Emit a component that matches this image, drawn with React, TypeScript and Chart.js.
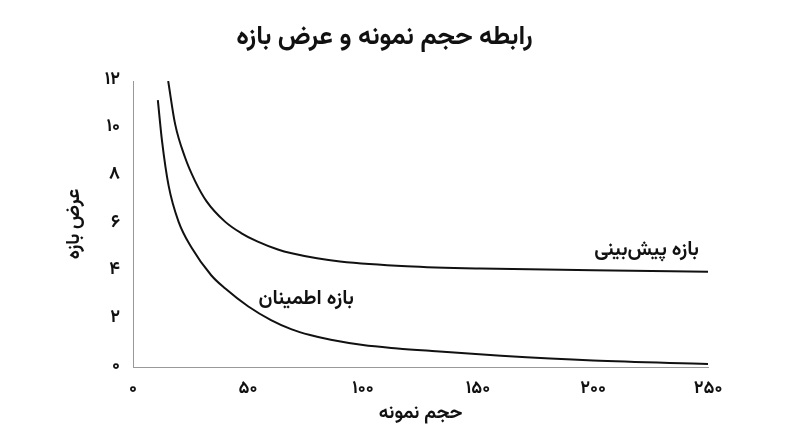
import React, { useEffect, useRef } from 'react';
import Chart from 'chart.js/auto';

// sample size (x) and interval width (y)
const confN = [10.8, 12.6, 15.5, 19.8, 25.5, 34, 40, 50, 60, 69, 77, 86, 100, 115, 130, 160, 200, 250];
const confWidth = [11.2, 9.5, 7.6, 6.1, 5.0, 3.85, 3.3, 2.55, 1.97, 1.58, 1.34, 1.14, 0.92, 0.78, 0.67, 0.47, 0.27, 0.13];

const predN = [15.3, 18.3, 22.6, 27, 32, 40, 47, 54, 63, 69, 80, 90, 119, 151, 200, 250];
const predWidth = [12, 10.2, 8.8, 7.8, 6.95, 6.1, 5.62, 5.27, 4.93, 4.77, 4.56, 4.43, 4.23, 4.13, 4.06, 4.0];

const xTickValues = [0, 50, 100, 150, 200, 250];
const xTickLabels = ['۰', '۵۰', '۱۰۰', '۱۵۰', '۲۰۰', '۲۵۰'];
const yTickValues = [0, 2, 4, 6, 8, 10, 12];
const yTickLabels = ['۰', '۲', '۴', '۶', '۸', '۱۰', '۱۲'];

const chartTitle = 'رابطه حجم نمونه و عرض بازه';
const xTitle = 'حجم نمونه';
const yTitle = 'عرض بازه';

// curve labels: text and the data point their right edge sits on
const curveLabels = [
  { text: 'بازه پیش‌بینی', x: 246, y: 4.83 },
  { text: 'بازه اطمینان', x: 96, y: 2.79 },
];

const FONT = "Vazirmatn, 'DejaVu Sans', sans-serif";

const curveLabelPlugin = {
  id: 'curveLabels',
  afterDatasetsDraw(chart: Chart) {
    const { ctx, scales } = chart;
    ctx.save();
    ctx.fillStyle = '#111';
    ctx.font = `bold 20px ${FONT}`;
    ctx.textAlign = 'right';
    ctx.textBaseline = 'middle';
    curveLabels.forEach(l => {
      ctx.fillText(l.text, scales.x.getPixelForValue(l.x), scales.y.getPixelForValue(l.y));
    });
    ctx.restore();
  },
};

export default function App() {
  const canvasRef = useRef<HTMLCanvasElement | null>(null);

  useEffect(() => {
    document.body.style.margin = '0';
    if (!canvasRef.current) return;

    const chart = new Chart(canvasRef.current, {
      type: 'line',
      data: {
        datasets: [
          {
            label: 'conf',
            data: confN.map((n, i) => ({ x: n, y: confWidth[i] })),
            borderColor: '#111',
            borderWidth: 2,
            pointRadius: 0,
            cubicInterpolationMode: 'monotone',
            fill: false,
          },
          {
            label: 'pred',
            data: predN.map((n, i) => ({ x: n, y: predWidth[i] })),
            borderColor: '#111',
            borderWidth: 2,
            pointRadius: 0,
            cubicInterpolationMode: 'monotone',
            fill: false,
          },
        ],
      },
      options: {
        animation: false,
        responsive: false,
        maintainAspectRatio: false,
        layout: { padding: { left: 61, right: 92, top: 0, bottom: 17 } },
        plugins: {
          legend: { display: false },
          tooltip: { enabled: false },
          title: {
            display: true,
            text: chartTitle,
            color: '#111',
            font: { size: 26, weight: 'bold', family: FONT, lineHeight: 1.2 },
            padding: { top: 24, bottom: 25.8 },
          },
        },
        scales: {
          x: {
            type: 'linear',
            min: 0,
            max: 250,
            afterBuildTicks: scale => {
              scale.ticks = xTickValues.map(v => ({ value: v }));
            },
            afterFit: scale => {
              scale.height = 63;
            },
            grid: { display: false, drawTicks: false },
            border: { color: '#999', width: 1 },
            ticks: {
              color: '#111',
              padding: 12,
              maxRotation: 0,
              font: { size: 18, weight: 'bold', family: FONT },
              callback: v => xTickLabels[xTickValues.indexOf(Number(v))] ?? '',
            },
            title: {
              display: true,
              text: xTitle,
              color: '#111',
              font: { size: 19, weight: 'bold', family: FONT },
            },
          },
          y: {
            type: 'linear',
            min: 0,
            max: 12,
            afterBuildTicks: scale => {
              scale.ticks = yTickValues.map(v => ({ value: v }));
            },
            afterFit: scale => {
              scale.width = 72;
            },
            grid: { display: false, drawTicks: false },
            border: { color: '#999', width: 1 },
            ticks: {
              color: '#111',
              padding: 13,
              font: { size: 18, weight: 'bold', family: FONT },
              callback: v => yTickLabels[yTickValues.indexOf(Number(v))] ?? '',
            },
            title: {
              display: true,
              text: yTitle,
              color: '#111',
              font: { size: 19, weight: 'bold', family: FONT },
            },
          },
        },
      },
      plugins: [curveLabelPlugin],
    });

    return () => chart.destroy();
  }, []);

  return (
    <div style={{ width: 800, height: 447 }}>
      <canvas ref={canvasRef} width={800} height={447} style={{ display: 'block' }} />
    </div>
  );
}
